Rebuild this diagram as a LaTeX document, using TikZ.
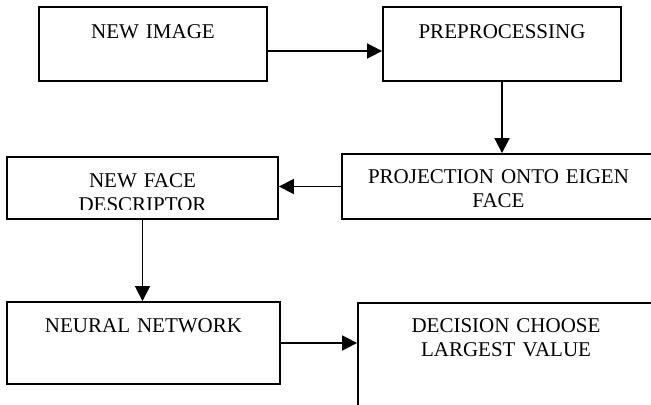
\documentclass[tikz,border=0pt]{standalone}
\usepackage{fontspec}
\setmainfont{Liberation Serif}
\usetikzlibrary{arrows.meta}

\begin{document}
\begin{tikzpicture}[x=0.5pt, y=-0.5pt]
\fontsize{10.5}{12}\selectfont

\tikzstyle{block} = [draw, rectangle, line width=0.9pt, inner sep=0pt]
\tikzstyle{lbl}   = [anchor=base, align=center, inner sep=0pt]
\tikzstyle{arr}   = [line width=0.8pt, -{Triangle[length=7.5pt, width=7.5pt]}]

\useasboundingbox (0,0) rectangle (651,405);
\clip (0,0) rectangle (651,405);

% boxes, the two on the right run off the page
\node [block, minimum width=114pt, minimum height=37pt] (NewImg)    at (153,44)    {};
\node [block, minimum width=119pt, minimum height=37pt] (PreProc)   at (502,44)    {};
\node [block, minimum width=156.5pt, minimum height=32.5pt] (Proj)  at (498.5,186.5) {};
\node [block, minimum width=135.5pt, minimum height=31pt] (FaceDesc) at (142.5,188) {};
\node [block, minimum width=136.5pt, minimum height=41pt] (NeuralNet) at (143.5,343) {};
\node [block, minimum width=148pt, minimum height=68pt] (Decision)  at (506,371)   {};

% texts sit near the top of each box
\node [lbl, text width=114pt] (NewImgTxt)  at ([yshift=-16pt]NewImg.north)  {NEW IMAGE};
\node [lbl, text width=119pt] (PreProcTxt) at ([yshift=-16pt]PreProc.north) {PREPROCESSING};
\node [lbl, text width=156.5pt] (ProjTxt)  at ([yshift=-15pt]Proj.north)    {PROJECTION ONTO EIGEN\\FACE};
\begin{scope}
  \clip (FaceDesc.north west) rectangle ([yshift=5pt]FaceDesc.south east);
  \node [lbl, text width=135.5pt] (FaceDescTxt) at ([yshift=-15.5pt]FaceDesc.north) {NEW FACE\\DESCRIPTOR};
\end{scope}
\node [lbl, text width=136.5pt] (NeuralNetTxt) at ([yshift=-15.5pt]NeuralNet.north) {NEURAL NETWORK};
\node [lbl, text width=148pt] (DecisionTxt) at ([yshift=-15pt]Decision.north) {DECISION CHOOSE\\LARGEST VALUE};

% connectors
\draw [arr] ([yshift=-3.5pt]NewImg.east) -- ([yshift=-3.5pt]PreProc.west);
\draw [arr] (PreProc.south) -- (PreProc.south |- Proj.north);
\draw [arr] (Proj.west) -- (Proj.west -| FaceDesc.east);
\draw [arr] (FaceDesc.south) -- (FaceDesc.south |- NeuralNet.north);
\draw [arr] (NeuralNet.east) -- (NeuralNet.east -| Decision.west);
\end{tikzpicture}
\end{document}
